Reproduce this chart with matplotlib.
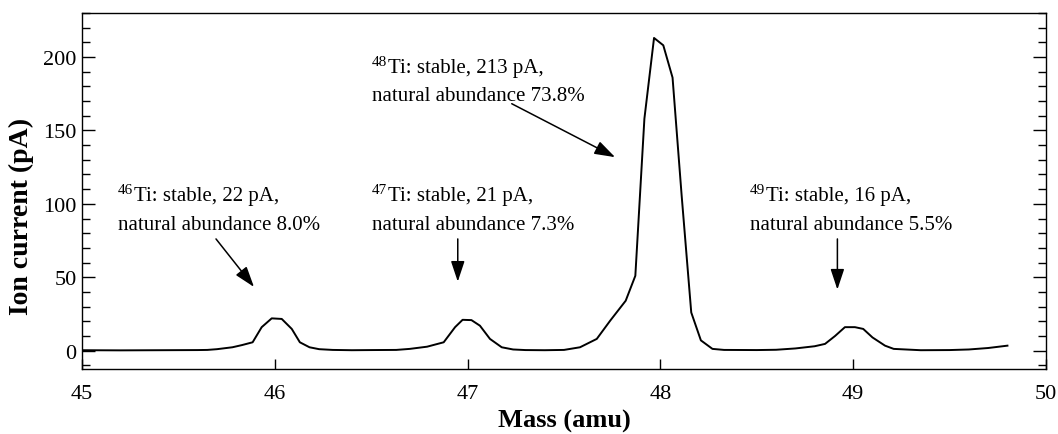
import matplotlib
matplotlib.use("Agg")
import matplotlib.pyplot as plt
from matplotlib.ticker import MultipleLocator

plt.rcParams["font.family"] = ["Liberation Serif", "DejaVu Serif"]

# Mass scan of titanium isotopes
mass = [45.00, 45.20, 45.40, 45.60, 45.65, 45.70, 45.78, 45.83, 45.885, 45.932,
        45.984, 46.036, 46.088, 46.13, 46.18, 46.23, 46.30, 46.40, 46.50, 46.63,
        46.70, 46.79, 46.876, 46.935, 46.974, 47.02, 47.064, 47.116, 47.177, 47.236,
        47.30, 47.40, 47.50, 47.583, 47.67, 47.74, 47.82, 47.87, 47.917, 47.967,
        48.015, 48.063, 48.11, 48.16, 48.21, 48.27, 48.33, 48.50, 48.60, 48.70,
        48.80, 48.854, 48.906, 48.957, 49.009, 49.052, 49.10, 49.165, 49.21, 49.35,
        49.50, 49.60, 49.70, 49.80]
current = [0.3, 0.2, 0.3, 0.4, 0.5, 1.0, 2.3, 3.8, 5.7, 16.0,
           22.0, 21.6, 14.8, 5.7, 2.3, 1.0, 0.5, 0.3, 0.4, 0.5,
           1.2, 2.7, 5.7, 16.0, 21.0, 20.8, 17.0, 8.0, 2.3, 0.8,
           0.4, 0.3, 0.5, 2.3, 8.0, 20.5, 34.0, 51.0, 158.0, 213.0,
           208.0, 186.0, 106.0, 26.0, 7.0, 1.2, 0.5, 0.4, 0.6, 1.5,
           3.0, 4.6, 10.0, 16.0, 16.0, 14.8, 9.0, 3.4, 1.2, 0.3,
           0.4, 0.8, 1.8, 3.4]

# Peak annotations: label lines, text anchor, arrow tail, arrow head
isotopes = ["46", "47", "48", "49"]
peak_currents = [22, 21, 213, 16]
abundances = ["8.0", "7.3", "73.8", "5.5"]
text_pos = [(45.187, 102.3), (46.503, 102.3), (46.503, 189.8), (48.465, 102.3)]
arrow_tail = [(45.695, 76.1), (46.949, 76.1), (47.229, 168.2), (48.918, 76.1)]
arrow_head = [(45.892, 43.4), (46.949, 47.0), (47.765, 131.8), (48.918, 41.6)]

fig = plt.figure(figsize=(10.58, 4.35), dpi=100)
ax = fig.add_axes([82 / 1058, 1 - 370 / 435, (1046 - 82) / 1058, (370 - 14) / 435])

ax.plot(mass, current, color="black", lw=1.4)

ax.set_xlim(45, 50)
ax.set_ylim(-12.5, 230)
ax.xaxis.set_major_locator(MultipleLocator(1))
ax.yaxis.set_major_locator(MultipleLocator(50))
ax.yaxis.set_minor_locator(MultipleLocator(10))
ax.tick_params(axis="y", which="major", direction="in", length=9.5, width=1.0,
               left=True, right=True, labelsize=16, pad=4)
ax.tick_params(axis="y", which="minor", direction="in", length=6, width=1.0,
               left=True, right=True)
ax.tick_params(axis="x", which="major", direction="in", length=7, width=1.0,
               bottom=True, top=False, labelsize=16, pad=11)
for sp in ax.spines.values():
    sp.set_linewidth(1.0)

ax.set_xlabel("Mass (amu)", fontsize=19, fontweight="bold", labelpad=4)
ax.set_ylabel("Ion current (pA)", fontsize=20, fontweight="bold")
ax.yaxis.set_label_coords(-0.05, 0.43)

line_gap = 19.4
sup_rise = 5.0
for iso, pc, ab, tp, tail, head in zip(isotopes, peak_currents, abundances,
                                       text_pos, arrow_tail, arrow_head):
    sup = ax.text(tp[0], tp[1] + sup_rise, iso, fontsize=11,
                  ha="left", va="baseline")
    ax.annotate("Ti: stable, %d pA," % pc, xy=(1, tp[1]),
                xycoords=(sup, "data"),
                xytext=(0.5, 0), textcoords="offset points",
                fontsize=15, ha="left", va="baseline",
                annotation_clip=False)
    ax.text(tp[0], tp[1] - line_gap, "natural abundance %s%%" % ab,
            fontsize=15, ha="left", va="baseline")
    ax.annotate("", xy=head, xytext=tail,
                arrowprops=dict(arrowstyle="-|>,head_length=0.9,head_width=0.3",
                                mutation_scale=14, color="black", lw=1.1,
                                shrinkA=0, shrinkB=0))

fig.savefig("out.png", dpi=100)
